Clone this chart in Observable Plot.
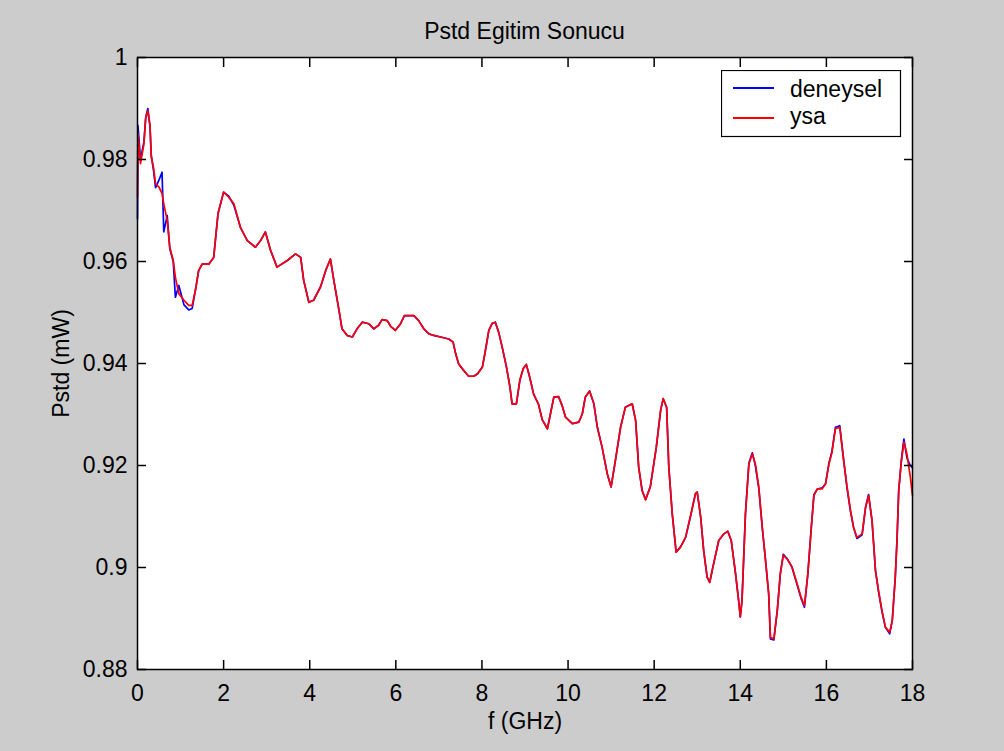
<!DOCTYPE html>
<html><head><meta charset="utf-8">
<script src="https://cdn.jsdelivr.net/npm/d3@7"></script>
<script src="https://cdn.jsdelivr.net/npm/@observablehq/plot@0.6"></script>
<style>
body{margin:0;background:#cccccc;width:1004px;height:751px;overflow:hidden;position:relative;font-family:"Liberation Sans",Arial,sans-serif;}
#chart{position:absolute;left:0;top:0;}
#title{position:absolute;left:137px;width:775px;top:20px;text-align:center;font-size:23px;line-height:23px;color:#000;}
#legend{position:absolute;left:721px;top:70px;}
</style></head><body>
<div id="chart"></div>
<div id="title">Pstd Egitim Sonucu</div>
<div id="legend"></div>
<script>
const freq = [
  0,0.01,0.07,0.15,0.19,0.24,0.29,0.32,0.37,0.42,0.5,0.57,0.61,0.69,0.75,0.83,0.88,0.96,1.08,1.19,1.27,1.35,1.42,1.5,
  1.66,1.77,1.87,2.0,2.12,2.24,2.39,2.55,2.74,2.86,2.97,3.09,3.24,3.48,3.67,3.79,3.86,3.98,4.09,4.25,4.37,4.48,4.56,
  4.68,4.75,4.87,4.99,5.1,5.22,5.37,5.49,5.6,5.68,5.8,5.88,5.99,6.11,6.2,6.42,6.53,6.65,6.77,6.88,7.04,
  7.23,7.33,7.39,7.46,7.58,7.69,7.81,7.9,8.01,8.08,8.16,8.24,8.31,8.39,8.47,8.57,8.65,8.7,8.8,8.88,8.96,9.03,9.11,9.2,9.31,9.4,9.52,
  9.59,9.67,9.78,9.86,9.94,10.1,10.25,10.33,10.4,10.5,10.6,10.68,10.79,10.91,11.0,11.1,11.22,11.33,11.49,11.57,11.64,11.72,11.8,11.91,12.05,
  12.15,12.21,12.29,12.34,12.42,12.51,12.61,12.73,12.84,12.96,13.0,13.08,13.15,13.23,13.29,13.38,13.5,13.62,13.71,13.79,13.89,13.97,14.0,14.04,
  14.12,14.2,14.28,14.35,14.43,14.51,14.58,14.66,14.7,14.78,14.86,14.93,15.0,15.09,15.2,15.32,15.41,15.49,15.57,15.65,15.71,15.79,15.9,15.98,
  16.06,16.13,16.21,16.31,16.4,16.48,16.56,16.63,16.71,16.83,16.91,16.98,17.06,17.14,17.21,17.29,17.37,17.47,17.53,17.6,17.64,17.68,17.74,17.8,17.87,17.95,18.0
];
const ysa = [
  0.9726,0.9851,0.9792,0.9831,0.9880,0.9896,0.9867,0.9805,0.9785,0.9752,0.9746,0.9733,0.9713,0.9680,0.9628,0.9602,0.9569,0.9537,0.9524,0.9514,0.9514,0.9546,0.9582,0.9595,
  0.9595,0.9608,0.9694,0.9736,0.9726,0.9713,0.9667,0.9641,0.9628,0.9641,0.9658,0.9622,0.9589,0.9602,0.9615,0.9608,0.9563,0.9520,0.9524,0.9550,0.9582,0.9605,0.9563,
  0.9504,0.9468,0.9455,0.9452,0.9468,0.9481,0.9478,0.9468,0.9475,0.9486,0.9484,0.9473,0.9465,0.9478,0.9494,0.9494,0.9484,0.9468,0.9458,0.9455,0.9452,
  0.9448,0.9442,0.9419,0.9399,0.9386,0.9375,0.9375,0.9380,0.9393,0.9425,0.9465,0.9479,0.9481,0.9461,0.9432,0.9393,0.9354,0.9321,0.9321,0.9367,0.9390,0.9398,0.9373,0.9340,0.9321,0.9290,0.9272,
  0.9301,0.9334,0.9335,0.9318,0.9295,0.9282,0.9285,0.9301,0.9334,0.9346,0.9321,0.9275,0.9236,0.9184,0.9158,0.9210,0.9275,0.9314,0.9321,0.9288,0.9197,0.9151,0.9133,0.9158,0.9236,
  0.9308,0.9331,0.9314,0.9197,0.9105,0.9030,0.9040,0.9059,0.9099,0.9145,0.9148,0.9099,0.9033,0.8981,0.8971,0.9007,0.9053,0.9066,0.9071,0.9053,0.8988,0.8929,0.8903,0.8935,
  0.9105,0.9203,0.9223,0.9203,0.9158,0.9079,0.9020,0.8948,0.8863,0.8860,0.8916,0.8988,0.9024,0.9017,0.9001,0.8968,0.8942,0.8925,0.8988,0.9079,0.9141,0.9154,0.9154,0.9164,
  0.9203,0.9226,0.9272,0.9275,0.9210,0.9158,0.9112,0.9079,0.9059,0.9066,0.9118,0.9141,0.9092,0.8994,0.8955,0.8916,0.8883,0.8873,0.8896,0.8981,0.9053,0.9151,0.9206,0.9246,0.9223,0.9177,0.9141
];
const deneysel = [
  0.9684,0.9867,0.9800,0.9835,0.9882,0.9900,0.9865,0.9808,0.9780,0.9745,0.9760,0.9775,0.9658,0.9690,0.9625,0.9600,0.9530,0.9553,0.9515,0.9505,0.9508,0.9546,0.9582,0.9595,
  0.9595,0.9608,0.9694,0.9736,0.9728,0.9710,0.9667,0.9641,0.9628,0.9641,0.9658,0.9622,0.9589,0.9602,0.9615,0.9608,0.9563,0.9520,0.9524,0.9550,0.9582,0.9605,0.9563,
  0.9504,0.9468,0.9455,0.9452,0.9468,0.9481,0.9478,0.9468,0.9475,0.9486,0.9484,0.9473,0.9465,0.9478,0.9494,0.9494,0.9484,0.9468,0.9458,0.9455,0.9452,
  0.9448,0.9442,0.9419,0.9399,0.9386,0.9375,0.9375,0.9380,0.9393,0.9425,0.9465,0.9479,0.9481,0.9461,0.9432,0.9393,0.9354,0.9321,0.9321,0.9367,0.9390,0.9398,0.9373,0.9340,0.9321,0.9290,0.9272,
  0.9301,0.9334,0.9335,0.9318,0.9295,0.9282,0.9285,0.9301,0.9334,0.9346,0.9321,0.9275,0.9236,0.9184,0.9158,0.9210,0.9275,0.9314,0.9321,0.9288,0.9197,0.9151,0.9133,0.9158,0.9236,
  0.9308,0.9331,0.9314,0.9197,0.9105,0.9030,0.9040,0.9059,0.9099,0.9145,0.9148,0.9099,0.9033,0.8981,0.8971,0.9007,0.9053,0.9066,0.9071,0.9053,0.8988,0.8929,0.8903,0.8935,
  0.9105,0.9205,0.9225,0.9200,0.9155,0.9079,0.9020,0.8948,0.8860,0.8858,0.8916,0.8988,0.9026,0.9017,0.9001,0.8966,0.8940,0.8922,0.8988,0.9079,0.9143,0.9154,0.9156,0.9164,
  0.9205,0.9228,0.9275,0.9278,0.9212,0.9155,0.9110,0.9079,0.9057,0.9064,0.9118,0.9143,0.9092,0.8994,0.8953,0.8914,0.8883,0.8870,0.8896,0.8981,0.9053,0.9151,0.9210,0.9252,0.9215,0.9200,0.9195
];
const xTicks = [0, 2, 4, 6, 8, 10, 12, 14, 16, 18];
const xTickLabels = ["0", "2", "4", "6", "8", "10", "12", "14", "16", "18"];
const yTicks = [0.88, 0.9, 0.92, 0.94, 0.96, 0.98, 1];
const yTickLabels = ["0.88", "0.9", "0.92", "0.94", "0.96", "0.98", "1"];
const seriesNames = ["deneysel", "ysa"];
const seriesColors = ["#0000ff", "#ff0000"];
const titleText = "Pstd Egitim Sonucu";
const xLabel = "f (GHz)";
const yLabel = "Pstd (mW)";

const denRows = freq.map((f, i) => ({f, v: deneysel[i]}));
const ysaRows = freq.map((f, i) => ({f, v: ysa[i]}));

const chart = Plot.plot({
  width: 1004,
  height: 751,
  marginLeft: 137,
  marginRight: 92,
  marginTop: 57,
  marginBottom: 82,
  style: {background: "transparent", fontFamily: "'Liberation Sans', Arial, sans-serif", fontSize: "23px", color: "#000", overflow: "visible"},
  x: {domain: [0, 18]},
  y: {domain: [0.88, 1]},
  marks: [
    Plot.frame({fill: "white", stroke: null}),
    Plot.line(denRows, {x: "f", y: "v", stroke: seriesColors[0], strokeWidth: 1.7}),
    Plot.line(ysaRows, {x: "f", y: "v", stroke: seriesColors[1], strokeWidth: 1.7}),
    Plot.frame({stroke: "#000", strokeWidth: 1.5}),
    Plot.axisX({anchor: "bottom", ticks: xTicks, tickFormat: d => xTickLabels[xTicks.indexOf(d)], tickSize: -9, tickPadding: 24, strokeWidth: 1.5, label: xLabel, labelAnchor: "center", labelArrow: "none", labelOffset: 59}),
    Plot.axisX({anchor: "top", ticks: xTicks, tickFormat: () => "", tickSize: -9, strokeWidth: 1.5, label: null}),
    Plot.axisY({anchor: "left", ticks: yTicks, tickFormat: d => yTickLabels[yTicks.indexOf(d)], tickSize: -9, tickPadding: 19, strokeWidth: 1.5, label: yLabel, labelAnchor: "center", labelArrow: "none", labelOffset: 85}),
    Plot.axisY({anchor: "right", ticks: yTicks, tickFormat: () => "", tickSize: -9, strokeWidth: 1.5, label: null})
  ]
});
document.getElementById("chart").appendChild(chart);
document.getElementById("title").textContent = titleText;

// Legend
const lg = d3.select("#legend").append("svg").attr("width", 181).attr("height", 68)
  .style("font-family", "'Liberation Sans', Arial, sans-serif").style("font-size", "23px");
lg.append("rect").attr("x", 0.5).attr("y", 0.5).attr("width", 179).attr("height", 66).attr("fill", "white").attr("stroke", "#000").attr("stroke-width", 1.2);
seriesNames.forEach((name, i) => {
  const cy = 18 + i * 30;
  lg.append("line").attr("x1", 12).attr("x2", 53).attr("y1", cy).attr("y2", cy).attr("stroke", seriesColors[i]).attr("stroke-width", 1.8);
  lg.append("text").attr("x", 69).attr("y", 27 + i * 27).attr("fill", "#000").text(name);
});
</script>
</body></html>
